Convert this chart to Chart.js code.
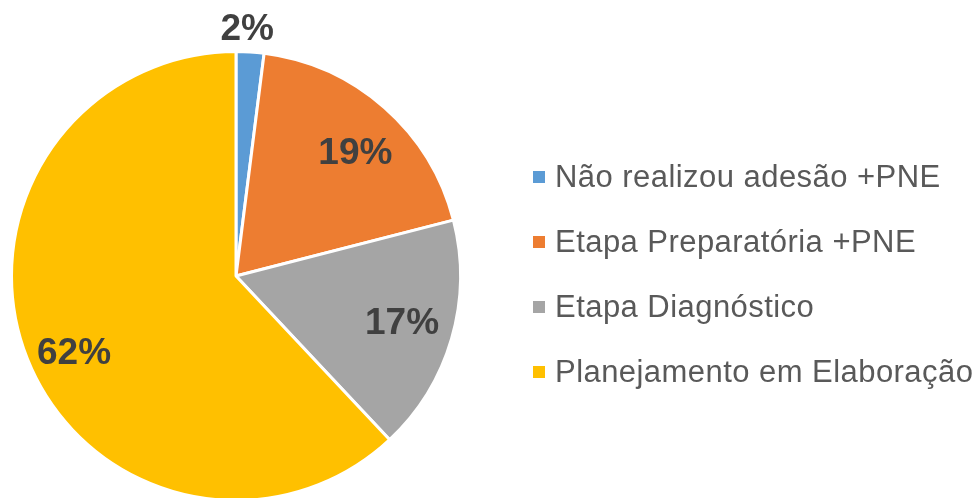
<!DOCTYPE html>
<html>
<head>
<meta charset="utf-8">
<script src="https://cdn.jsdelivr.net/npm/chart.js@4"></script>
<style>
  html, body { margin: 0; padding: 0; background: #fff; }
  #wrap { position: relative; width: 980px; height: 498px; overflow: hidden; }
  #legend { position: absolute; left: 533px; top: 155px; font-family: "Liberation Sans", Arial, sans-serif; font-size: 31px; letter-spacing: 0.45px; color: #595959; }
  #legend .item { height: 65px; line-height: 44px; white-space: nowrap; }
  #legend .box { display: inline-block; width: 12px; height: 12px; margin-right: 10px; vertical-align: 4px; }
</style>
</head>
<body>
<div id="wrap">
  <canvas id="pieChart" width="980" height="502"></canvas>
  <div id="legend"></div>
</div>
<script>
// Data
const categories = ['Não realizou adesão +PNE', 'Etapa Preparatória +PNE', 'Etapa Diagnóstico', 'Planejamento em Elaboração'];
const percentages = [2, 19, 17, 62];
const sliceColors = ['#5B9BD5', '#ED7D31', '#A5A5A5', '#FFC000'];

// label distance from center, as a fraction of the radius (2% sits outside)
const labelRadius = [1.10, 0.76, 0.77, 0.80];
const labelAngleShift = [-1, 3, 0, -4]; // degrees

const percentLabels = {
    id: 'percentLabels',
    afterDatasetsDraw(chart) {
        const ctx = chart.ctx;
        const meta = chart.getDatasetMeta(0);
        ctx.save();
        ctx.font = 'bold 37px "Liberation Sans", Arial, sans-serif';
        ctx.fillStyle = '#404040';
        ctx.textAlign = 'center';
        ctx.textBaseline = 'middle';
        meta.data.forEach((arc, i) => {
            const mid = (arc.startAngle + arc.endAngle) / 2 + labelAngleShift[i] * Math.PI / 180;
            const r = arc.outerRadius * labelRadius[i];
            const x = arc.x + Math.cos(mid) * r;
            const y = arc.y + Math.sin(mid) * r;
            ctx.fillText(percentages[i] + '%', x, y);
        });
        ctx.restore();
    }
};

new Chart(document.getElementById('pieChart').getContext('2d'), {
    type: 'pie',
    data: {
        labels: categories,
        datasets: [{
            data: percentages,
            backgroundColor: sliceColors,
            borderColor: '#ffffff',
            borderWidth: 3
        }]
    },
    options: {
        responsive: false,
        animation: false,
        layout: { padding: { left: 10, right: 518, top: 50, bottom: 0 } },
        plugins: {
            legend: { display: false },
            tooltip: { enabled: false }
        }
    },
    plugins: [percentLabels]
});

// legend
const legend = document.getElementById('legend');
categories.forEach((name, i) => {
    const item = document.createElement('div');
    item.className = 'item';
    item.innerHTML = '<span class="box" style="background:' + sliceColors[i] + '"></span>' + name;
    legend.appendChild(item);
});
</script>
</body>
</html>
